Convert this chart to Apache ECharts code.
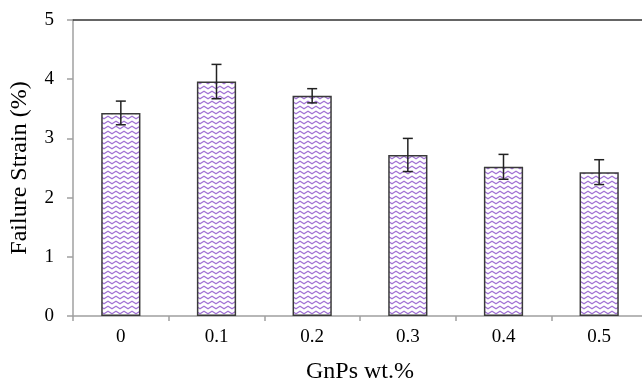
<!DOCTYPE html>
<html>
<head>
<meta charset="utf-8">
<script src="https://cdn.jsdelivr.net/npm/echarts@6/dist/echarts.min.js"></script>
<style>
html,body{margin:0;padding:0;background:#fff;}
#c{width:642px;height:383px;}
</style>
</head>
<body>
<div id="c"></div>
<script>
const categories = ['0', '0.1', '0.2', '0.3', '0.4', '0.5'];
const strainValues = [3.43, 3.96, 3.72, 2.72, 2.52, 2.43];
const strainErrors = [0.20, 0.29, 0.12, 0.28, 0.21, 0.21];
const yTicks = [0, 1, 2, 3, 4, 5];

// zigzag pattern
const pc = document.createElement('canvas');
pc.width = 8; pc.height = 5;
const g = pc.getContext('2d');
g.fillStyle = '#ffffff';
g.fillRect(0, 0, 8, 5);
g.strokeStyle = '#a274d4';
g.lineWidth = 1.2;
g.beginPath();
g.moveTo(-2, 2.5);
g.lineTo(0, 3.8);
g.lineTo(4, 1.2);
g.lineTo(8, 3.8);
g.lineTo(10, 2.5);
g.stroke();

const errData = strainValues.map((v, i) => [i, v - strainErrors[i], v + strainErrors[i]]);

const chart = echarts.init(document.getElementById('c'), null, {renderer: 'canvas'});
const serif = '"Liberation Serif", "Times New Roman", serif';
chart.setOption({
  animation: false,
  backgroundColor: '#ffffff',
  grid: {left: 73, top: 20, width: 574, height: 296, containLabel: false, outerBoundsMode: 'none'},
  xAxis: [{
    type: 'category',
    data: categories,
    boundaryGap: true,
    name: 'GnPs wt.%',
    nameLocation: 'middle',
    nameGap: 44,
    nameTextStyle: {fontFamily: serif, fontSize: 24, color: '#000'},
    axisLine: {lineStyle: {color: '#a0a0a0', width: 1.5}},
    axisTick: {show: true, length: 5, lineStyle: {color: '#a0a0a0', width: 1.5}, alignWithLabel: false},
    axisLabel: {fontFamily: serif, fontSize: 19, color: '#000', margin: 12}
  }, {
    type: 'category',
    data: categories,
    position: 'top',
    axisLine: {lineStyle: {color: '#333333', width: 1.5}},
    axisTick: {show: false},
    axisLabel: {show: false}
  }],
  yAxis: {
    type: 'value',
    min: yTicks[0],
    max: yTicks[yTicks.length - 1],
    interval: 1,
    name: 'Failure Strain (%)',
    nameLocation: 'middle',
    nameGap: 41,
    nameTextStyle: {fontFamily: serif, fontSize: 24, color: '#000'},
    axisLine: {show: true, lineStyle: {color: '#a0a0a0', width: 1.5}},
    axisTick: {show: true, length: 6, lineStyle: {color: '#a0a0a0', width: 1.5}},
    splitLine: {show: false},
    axisLabel: {fontFamily: serif, fontSize: 19, color: '#000', margin: 19}
  },
  series: [{
    type: 'bar',
    data: strainValues,
    barWidth: '41%',
    itemStyle: {
      color: {image: pc, repeat: 'repeat'},
      borderColor: '#3a3a3a',
      borderWidth: 1.5
    }
  }, {
    type: 'custom',
    data: errData,
    z: 10,
    renderItem: function (params, api) {
      const x = api.value(0);
      const lo = api.coord([x, api.value(1)]);
      const hi = api.coord([x, api.value(2)]);
      const cap = 5;
      const st = {stroke: '#222222', lineWidth: 1.5};
      return {
        type: 'group',
        children: [
          {type: 'line', shape: {x1: lo[0], y1: lo[1], x2: hi[0], y2: hi[1]}, style: st},
          {type: 'line', shape: {x1: lo[0] - cap, y1: lo[1], x2: lo[0] + cap, y2: lo[1]}, style: st},
          {type: 'line', shape: {x1: hi[0] - cap, y1: hi[1], x2: hi[0] + cap, y2: hi[1]}, style: st}
        ]
      };
    }
  }]
});
</script>
</body>
</html>
